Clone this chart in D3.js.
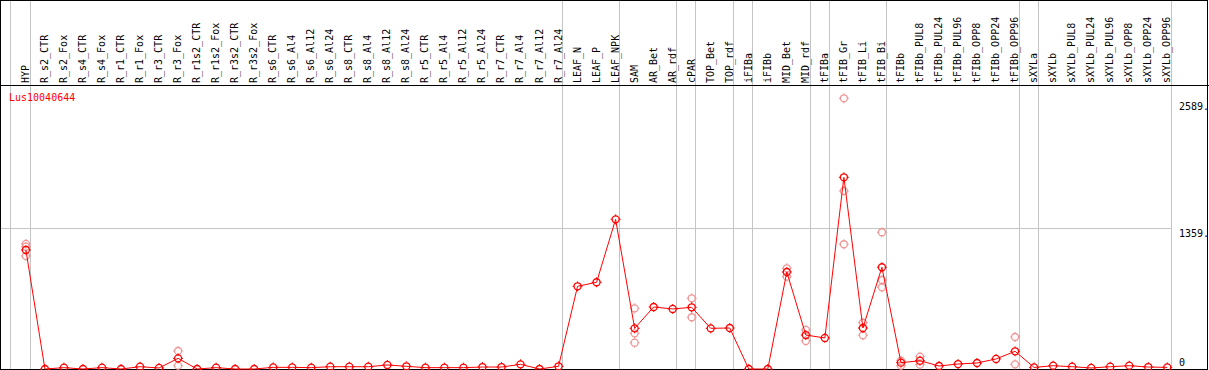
<!DOCTYPE html>
<html>
<head>
<meta charset="utf-8">
<script src="https://cdn.jsdelivr.net/npm/d3@7"></script>
<style>
  body { margin: 0; background: #fff; }
  svg { display: block; }
</style>
</head>
<body>
<svg id="chart" width="1209" height="370"></svg>
<script>
const geneName = 'Lus10040644';

const categories = ['HYP',
  'R_s2_CTR', 'R_s2_Fox', 'R_s4_CTR', 'R_s4_Fox', 'R_r1_CTR', 'R_r1_Fox', 'R_r3_CTR', 'R_r3_Fox',
  'R_r1s2_CTR', 'R_r1s2_Fox', 'R_r3s2_CTR', 'R_r3s2_Fox',
  'R_s6_CTR', 'R_s6_Al4', 'R_s6_Al12', 'R_s6_Al24', 'R_s8_CTR', 'R_s8_Al4', 'R_s8_Al12', 'R_s8_Al24',
  'R_r5_CTR', 'R_r5_Al4', 'R_r5_Al12', 'R_r5_Al24', 'R_r7_CTR', 'R_r7_Al4', 'R_r7_Al12', 'R_r7_Al24',
  'LEAF_N', 'LEAF_P', 'LEAF_NPK',
  'SAM', 'AR_Bet', 'AR_rdf', 'cPAR', 'TOP_Bet', 'TOP_rdf', 'iFIBa', 'iFIBb', 'MID_Bet', 'MID_rdf',
  'tFIBa', 'tFIB_Gr', 'tFIB_Li', 'tFIB_Bi',
  'tFIBb', 'tFIBb_PUL8', 'tFIBb_PUL24', 'tFIBb_PUL96', 'tFIBb_OPP8', 'tFIBb_OPP24', 'tFIBb_OPP96',
  'sXYLa', 'sXYLb', 'sXYLb_PUL8', 'sXYLb_PUL24', 'sXYLb_PUL96', 'sXYLb_OPP8', 'sXYLb_OPP24', 'sXYLb_OPP96'];

// how many columns in each separated block
const groupSizes = [1, 28, 3, 3, 1, 2, 1, 3, 1, 3, 7, 1, 7];

// mean expression per sample
const means = [1150,
  0, 13, 0, 13, 0, 22, 10, 103,
  0, 13, 0, 0,
  16, 16, 13, 22, 22, 22, 39, 26,
  13, 13, 13, 19, 19, 45, 0, 26,
  799, 838, 1446,
  393, 599, 580, 596, 393, 396, 0, 0, 937, 328,
  300, 1852, 396, 983,
  61, 80, 29, 48, 58, 97, 171,
  15, 32, 22, 10, 22, 32, 19, 16];

// individual replicates that stand out from the mean
const repSamples = ['HYP', 'HYP', 'HYP', 'R_r3_Fox', 'R_r3_Fox',
  'SAM', 'SAM', 'SAM', 'cPAR', 'cPAR', 'MID_Bet', 'MID_Bet', 'MID_rdf', 'MID_rdf',
  'tFIB_Gr', 'tFIB_Gr', 'tFIB_Gr', 'tFIB_Li', 'tFIB_Li', 'tFIB_Bi', 'tFIB_Bi', 'tFIB_Bi',
  'tFIBb', 'tFIBb', 'tFIBb_PUL8', 'tFIBb_PUL8', 'tFIBb_OPP96', 'tFIBb_OPP96'];
const repValues = [1208, 1182, 1092, 174, 32,
  586, 345, 254, 683, 500, 973, 892, 377, 271,
  2615, 1720, 1205, 447, 326, 1321, 860, 789,
  80, 32, 119, 42, 309, 45];

const yTicks = [0, 1359, 2589];
const yTickLabels = ['0', '1359.', '2589.'];

const width = 1209;
const height = 370;
const headerH = 85;
const plotRight = 1171;

const svg = d3.select('#chart');

const xScale = d3.scaleBand().domain(categories).range([10.6, plotRight]).padding(0);
const px = d => xScale(d) + 15.3;
const yScale = d3.scaleLinear().domain([0, 2589]).range([369, 101]);

// group separators
let acc = 0;
const breaks = [0];
groupSizes.forEach(n => { acc += n; breaks.push(acc); });
const breakX = i => i >= categories.length ? plotRight : xScale(categories[i]);

svg.append('g')
  .selectAll('line')
  .data(breaks)
  .join('line')
    .attr('x1', i => (i == 0 ? 10 : Math.round(breakX(i))) + 0.5)
    .attr('x2', i => (i == 0 ? 10 : Math.round(breakX(i))) + 0.5)
    .attr('y1', 0)
    .attr('y2', height)
    .attr('stroke', '#c4c4c4')
    .attr('stroke-width', 1);

// horizontal grid at middle tick
svg.append('line')
  .attr('x1', 1).attr('x2', plotRight)
  .attr('y1', Math.round(yScale(1359)) + 0.5)
  .attr('y2', Math.round(yScale(1359)) + 0.5)
  .attr('stroke', '#c4c4c4');

// frame
svg.append('rect')
  .attr('x', 0.5).attr('y', 0.5)
  .attr('width', 1207).attr('height', 369)
  .attr('fill', 'none').attr('stroke', '#000');
svg.append('line')
  .attr('x1', 0).attr('x2', width)
  .attr('y1', headerH + 0.5).attr('y2', headerH + 0.5)
  .attr('stroke', '#000');

// column labels
svg.append('g')
  .selectAll('text')
  .data(categories)
  .join('text')
    .attr('transform', d => `translate(${px(d) + 3},${headerH - 2}) rotate(-90)`)
    .attr('font-family', 'DejaVu Sans Mono, monospace')
    .attr('font-size', '10px')
    .attr('fill', '#000')
    .text(d => d);

// y labels
svg.append('g')
  .selectAll('text')
  .data(yTicks)
  .join('text')
    .attr('x', 1179)
    .attr('y', d => Math.min(yScale(d) + 9, 366))
    .attr('font-family', 'DejaVu Sans Mono, monospace')
    .attr('font-size', '10px')
    .attr('fill', '#000')
    .text((d, i) => yTickLabels[i]);

svg.append('text')
  .attr('x', 9).attr('y', 101)
  .attr('font-family', 'DejaVu Sans Mono, monospace')
  .attr('font-size', '10px')
  .attr('fill', '#ff0000')
  .text(geneName);

const marker = (g, color) => {
  g.append('circle').attr('r', 3.5).attr('fill', 'none').attr('stroke', color).attr('stroke-width', 1.3);
  g.append('path')
    .attr('d', 'M0,-3.5V-5M0,3.5V5M-3.5,0H-5M3.5,0H5')
    .attr('stroke', color).attr('stroke-width', 1);
};

// replicates
svg.append('g')
  .selectAll('g')
  .data(repValues)
  .join('g')
    .attr('transform', (d, i) => `translate(${px(repSamples[i])},${yScale(d)})`)
    .each(function() { marker(d3.select(this), '#f09696'); });

// mean line
const line = d3.line().x((d, i) => px(categories[i])).y(d => yScale(d));
svg.append('path')
  .attr('d', line(means))
  .attr('fill', 'none')
  .attr('stroke', '#ff0000')
  .attr('stroke-width', 1);

svg.append('g')
  .selectAll('g')
  .data(means)
  .join('g')
    .attr('transform', (d, i) => `translate(${px(categories[i])},${yScale(d)})`)
    .each(function() { marker(d3.select(this), '#ff0000'); });
</script>
</body>
</html>
